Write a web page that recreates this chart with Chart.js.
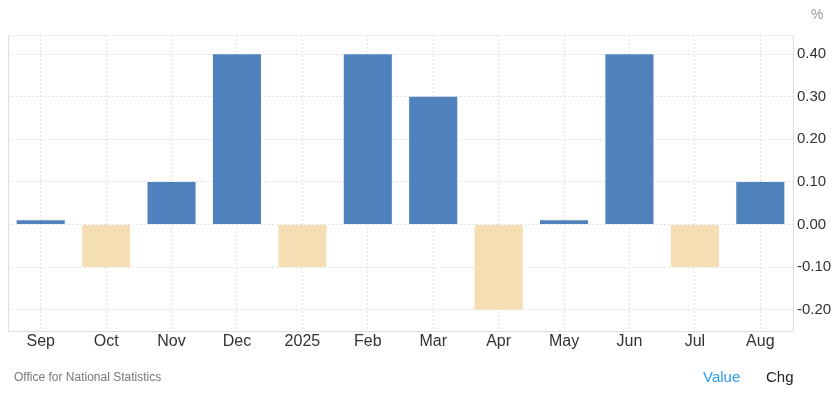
<!DOCTYPE html>
<html><head><meta charset="utf-8">
<script src="https://cdn.jsdelivr.net/npm/chart.js@4"></script>
<style>
html,body{margin:0;padding:0;background:#fff;font-family:"Liberation Sans",Arial,sans-serif;}
#wrap{position:relative;width:837px;height:405px;}
canvas{position:absolute;left:0;top:0;}
.t{position:absolute;white-space:nowrap;}
</style></head><body>
<div id="wrap">
<canvas id="c" width="837" height="405"></canvas>
<div class="t" style="left:811px;top:6px;font-size:14px;color:#999;">%</div>
<div class="t" style="left:14px;top:370px;font-size:12px;color:#777;">Office for National Statistics</div>
<div class="t" style="left:703px;top:368px;font-size:15px;color:#2a9df4;">Value</div>
<div class="t" style="left:766px;top:368px;font-size:15px;color:#222;">Chg</div>
</div>
<script>
const categories = ["Sep","Oct","Nov","Dec","2025","Feb","Mar","Apr","May","Jun","Jul","Aug"];
const values = [0.01,-0.1,0.1,0.4,-0.1,0.4,0.3,-0.2,0.01,0.4,-0.1,0.1];
const yTicks = [-0.2,-0.1,0,0.1,0.2,0.3,0.4];
const yMin = -0.25, yMax = 0.445;

const frame = {
  id:'frame',
  afterDraw(chart){
    const {ctx, chartArea:a} = chart;
    ctx.save();
    ctx.strokeStyle = '#dddddd';
    ctx.lineWidth = 1;
    ctx.beginPath();
    ctx.moveTo(a.left+0.5, a.top);
    ctx.lineTo(a.left+0.5, a.bottom);
    ctx.moveTo(a.left, a.bottom+0.5);
    ctx.lineTo(a.right, a.bottom+0.5);
    ctx.moveTo(a.right+0.5, a.top);
    ctx.lineTo(a.right+0.5, a.bottom);
    ctx.stroke();
    ctx.restore();
  }
};

new Chart(document.getElementById('c'), {
  type:'bar',
  data:{
    labels: categories,
    datasets:[{
      data: values,
      backgroundColor: values.map(v => v < 0 ? '#f5deb3' : '#4f81bd'),
      barPercentage: 0.735,
      categoryPercentage: 1.0,
      borderWidth: 0
    }]
  },
  options:{
    responsive:false,
    animation:false,
    layout:{padding:{left:8, top:35, right:0, bottom:44}},
    plugins:{legend:{display:false}, tooltip:{enabled:false}},
    scales:{
      x:{
        grid:{offset:false, color:'#e2e2e2', drawTicks:false},
        border:{display:false, dash:[2,2]},
        ticks:{color:'#333', font:{family:'"Liberation Sans", Arial, sans-serif', size:16}, padding:1, maxRotation:0, autoSkip:false},
        afterFit(s){ s.height = 30; }
      },
      y:{
        position:'right',
        min:yMin, max:yMax,
        afterBuildTicks(s){ s.ticks = yTicks.concat([yMax]).map(v=>({value:v})); },
        grid:{color:'#e2e2e2', drawTicks:false},
        border:{display:false, dash:[2,2]},
        ticks:{
          color:'#333', padding:4,
          font:{family:'"Liberation Sans", Arial, sans-serif', size:15},
          callback(v){ return v === yMax ? '' : Number(v).toFixed(2); }
        },
        afterFit(s){ s.width = 44; }
      }
    }
  },
  plugins:[frame]
});
</script>
</body></html>
